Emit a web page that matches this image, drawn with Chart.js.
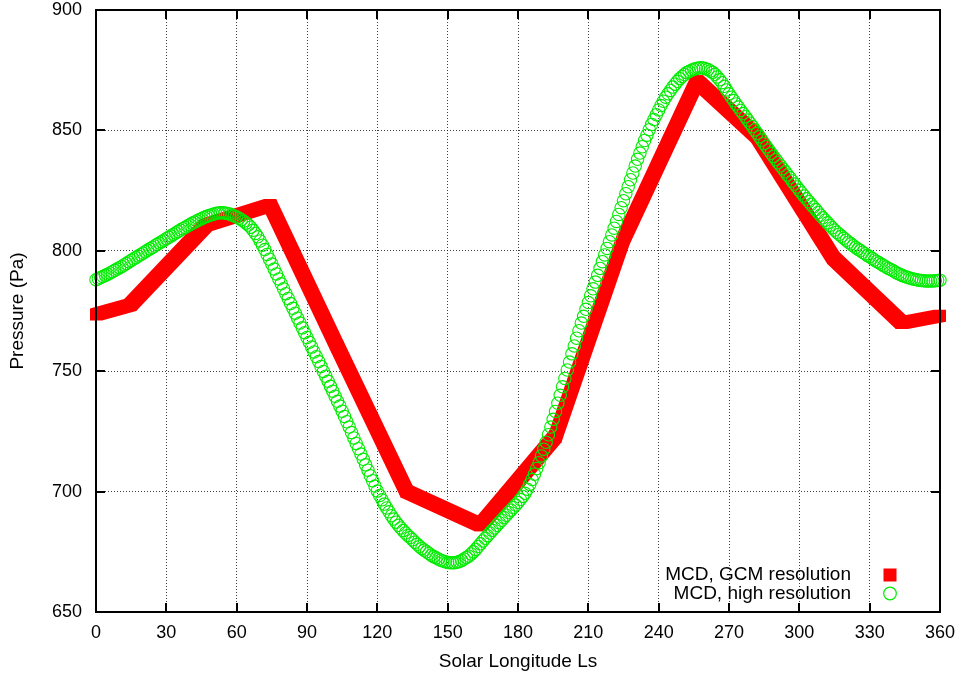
<!DOCTYPE html>
<html>
<head>
<meta charset="utf-8">
<script src="https://cdn.jsdelivr.net/npm/chart.js@4.4.0/dist/chart.umd.min.js"></script>
<style>
  html, body { margin: 0; padding: 0; background: #fff; }
  #wrap { width: 965px; height: 675px; }
</style>
</head>
<body>
<div id="wrap"><canvas id="pressure-chart" width="965" height="675"></canvas></div>
<script>
// GCM resolution: monthly knots (Ls in degrees, surface pressure in Pa)
const gcmLs = [0, 14.6, 47, 74.3, 103, 132.5, 164, 196, 225, 256.4, 282, 314.5, 343.7, 360];
const gcmP  = [773.5, 777.5, 810.7, 819, 760, 700, 686, 723, 805, 870.4, 847.5, 797, 770, 773];

// high resolution: one value per degree of Ls, starting at Ls = 0
const highResStart = 0;
const highResP = [
  788.0, 788.4, 788.9, 789.3, 789.8, 790.3, 790.8, 791.3, 791.9, 792.4,
  793.0, 793.5, 794.1, 794.7, 795.4, 796.0, 796.6, 797.2, 797.8, 798.4,
  799.0, 799.6, 800.2, 800.8, 801.4, 802.0, 802.6, 803.2, 803.8, 804.4,
  805.0, 805.6, 806.2, 806.8, 807.4, 808.0, 808.6, 809.2, 809.7, 810.3,
  810.8, 811.4, 811.9, 812.4, 812.9, 813.3, 813.8, 814.2, 814.6, 814.9,
  815.2, 815.5, 815.7, 815.8, 815.8, 815.7, 815.5, 815.3, 814.9, 814.5,
  814.0, 813.5, 812.9, 812.3, 811.5, 810.7, 809.8, 808.5, 807.2, 805.8,
  804.1, 802.3, 800.5, 798.5, 796.5, 794.5, 792.4, 790.4, 788.3, 786.3,
  784.2, 782.2, 780.2, 778.1, 776.1, 774.1, 772.0, 770.0, 768.0, 766.0,
  764.0, 762.0, 760.0, 758.0, 756.0, 754.0, 752.0, 749.9, 747.9, 745.8,
  743.7, 741.7, 739.6, 737.5, 735.5, 733.4, 731.2, 729.0, 726.8, 724.5,
  722.3, 720.0, 717.8, 715.6, 713.4, 711.1, 708.9, 706.6, 704.5, 702.3,
  700.2, 698.4, 696.6, 694.8, 693.2, 691.6, 690.0, 688.6, 687.3, 686.0,
  684.9, 683.8, 682.8, 681.8, 680.9, 680.0, 679.0, 678.1, 677.2, 676.4,
  675.7, 675.0, 674.3, 673.6, 673.0, 672.5, 672.0, 671.5, 671.2, 670.9,
  670.6, 670.5, 670.5, 670.5, 670.7, 671.0, 671.4, 672.0, 672.6, 673.2,
  674.1, 675.0, 676.0, 677.2, 678.3, 679.5, 680.6, 681.7, 682.8, 683.9,
  684.9, 686.0, 687.1, 688.1, 689.2, 690.2, 691.3, 692.3, 693.4, 694.4,
  695.5, 696.7, 698.0, 699.3, 701.0, 703.0, 705.0, 707.2, 709.6, 712.0,
  714.8, 717.6, 720.5, 723.6, 726.8, 730.0, 733.3, 736.7, 740.0, 743.5,
  747.0, 750.5, 753.8, 757.2, 760.5, 763.7, 766.8, 770.0, 772.8, 775.7,
  778.5, 781.3, 784.2, 787.0, 789.8, 792.7, 795.5, 798.3, 801.0, 803.8,
  806.6, 809.4, 812.2, 815.1, 817.9, 820.8, 823.7, 826.6, 829.5, 832.3,
  835.2, 838.0, 840.6, 843.2, 845.8, 848.0, 850.3, 852.5, 854.5, 856.5,
  858.5, 860.3, 862.1, 863.8, 865.2, 866.6, 868.0, 869.2, 870.4, 871.5,
  872.4, 873.2, 874.0, 874.5, 875.0, 875.4, 875.7, 875.9, 876.0, 875.9,
  875.6, 875.3, 874.7, 874.1, 873.3, 872.2, 871.0, 869.8, 868.3, 866.8,
  865.2, 863.8, 862.4, 861.0, 859.7, 858.3, 857.0, 855.7, 854.3, 853.0,
  851.6, 850.2, 848.8, 847.4, 846.0, 844.6, 843.2, 841.9, 840.5, 839.2,
  837.9, 836.6, 835.3, 834.1, 832.8, 831.5, 830.3, 829.0, 827.7, 826.5,
  825.2, 824.0, 822.8, 821.6, 820.5, 819.3, 818.2, 817.1, 815.9, 814.8,
  813.7, 812.7, 811.6, 810.6, 809.6, 808.6, 807.7, 806.9, 806.0, 805.2,
  804.4, 803.6, 802.9, 802.1, 801.4, 800.7, 800.1, 799.4, 798.8, 798.1,
  797.5, 796.9, 796.2, 795.6, 795.0, 794.4, 793.8, 793.3, 792.7, 792.2,
  791.7, 791.1, 790.6, 790.2, 789.7, 789.3, 789.0, 788.7, 788.4, 788.2,
  788.0, 787.8, 787.7, 787.6, 787.5, 787.5, 787.5, 787.5, 787.6, 787.7,
  787.8
];

const seriesLabels = ['MCD, GCM resolution', 'MCD, high resolution'];
const xTitle = 'Solar Longitude Ls';
const yTitle = 'Pressure (Pa)';

const RED = '#ff0000';
const GREEN = 'rgb(0, 235, 0)';
const FONT = '"Liberation Sans", Arial, sans-serif';
const SQ = 6; // half size of the gcm squares

function hull(points) {
  const p = points.slice().sort((a, b) => a[0] - b[0] || a[1] - b[1]);
  const cross = (o, a, b) => (a[0] - o[0]) * (b[1] - o[1]) - (a[1] - o[1]) * (b[0] - o[0]);
  const lower = [], upper = [];
  for (const q of p) {
    while (lower.length >= 2 && cross(lower[lower.length - 2], lower[lower.length - 1], q) <= 0) lower.pop();
    lower.push(q);
  }
  for (let i = p.length - 1; i >= 0; i--) {
    const q = p[i];
    while (upper.length >= 2 && cross(upper[upper.length - 2], upper[upper.length - 1], q) <= 0) upper.pop();
    upper.push(q);
  }
  upper.pop(); lower.pop();
  return lower.concat(upper);
}

// squares swept along the gcm series (like gnuplot's dense square points)
const squareBand = {
  id: 'squareBand',
  beforeDatasetsDraw(chart) {
    const pts = chart.getDatasetMeta(0).data;
    const ctx = chart.ctx;
    ctx.save();
    ctx.fillStyle = RED;
    for (let i = 0; i < pts.length - 1; i++) {
      const corners = [];
      [pts[i], pts[i + 1]].forEach(p => {
        corners.push([p.x - SQ, p.y - SQ], [p.x + SQ, p.y - SQ], [p.x + SQ, p.y + SQ], [p.x - SQ, p.y + SQ]);
      });
      const h = hull(corners);
      ctx.beginPath();
      h.forEach((c, j) => j ? ctx.lineTo(c[0], c[1]) : ctx.moveTo(c[0], c[1]));
      ctx.closePath();
      ctx.fill();
    }
    ctx.restore();
  }
};

// gnuplot style frame with inward ticks on all sides, plus the legend
const frameAndKey = {
  id: 'frameAndKey',
  afterDraw(chart) {
    const ctx = chart.ctx;
    const a = chart.chartArea;
    const xs = chart.scales.x, ys = chart.scales.y;
    const tl = 9;
    ctx.save();
    ctx.strokeStyle = '#000';
    ctx.lineWidth = 2;
    ctx.beginPath();
    xs.ticks.forEach(t => {
      const px = Math.round(xs.getPixelForValue(t.value));
      ctx.moveTo(px, a.bottom); ctx.lineTo(px, a.bottom - tl);
      ctx.moveTo(px, a.top); ctx.lineTo(px, a.top + tl);
    });
    ys.ticks.forEach(t => {
      const py = Math.round(ys.getPixelForValue(t.value));
      ctx.moveTo(a.left, py); ctx.lineTo(a.left + tl, py);
      ctx.moveTo(a.right, py); ctx.lineTo(a.right - tl, py);
    });
    ctx.stroke();
    ctx.strokeRect(a.left, a.top, a.right - a.left, a.bottom - a.top);

    // key
    ctx.font = '19px ' + FONT;
    ctx.fillStyle = '#000';
    ctx.textAlign = 'right';
    ctx.textBaseline = 'middle';
    const tx = a.right - 89, mx = a.right - 50;
    const rows = [a.bottom - 37, a.bottom - 18.5];
    ctx.fillText(seriesLabels[0], tx, rows[0]);
    ctx.fillText(seriesLabels[1], tx, rows[1]);
    ctx.fillStyle = RED;
    ctx.fillRect(mx - 6.5, rows[0] - 6.5, 13, 13);
    ctx.strokeStyle = GREEN;
    ctx.lineWidth = 1.2;
    ctx.beginPath();
    ctx.arc(mx, rows[1], 6.3, 0, Math.PI * 2);
    ctx.stroke();
    ctx.restore();
  }
};

const ctx = document.getElementById('pressure-chart').getContext('2d');
new Chart(ctx, {
  type: 'scatter',
  data: {
    datasets: [
      {
        label: seriesLabels[0],
        data: gcmLs.map((ls, i) => ({ x: ls, y: gcmP[i] })),
        pointRadius: 0,
        pointHoverRadius: 0,
        showLine: false,
        backgroundColor: RED,
        borderColor: RED
      },
      {
        label: seriesLabels[1],
        data: highResP.map((p, i) => ({ x: highResStart + i, y: p })),
        pointStyle: 'circle',
        pointRadius: 6.2,
        pointBorderWidth: 1.1,
        pointBorderColor: GREEN,
        pointBackgroundColor: 'rgba(0,0,0,0)',
        showLine: false,
        clip: false
      }
    ]
  },
  options: {
    responsive: false,
    animation: false,
    devicePixelRatio: 1,
    layout: { autoPadding: false, padding: { top: 10, right: 25, left: 0, bottom: 0 } },
    plugins: {
      legend: { display: false },
      tooltip: { enabled: false }
    },
    scales: {
      x: {
        type: 'linear',
        min: 0, max: 360,
        afterFit: s => { s.height = 63; s.paddingLeft = 0; s.paddingRight = 0; },
        ticks: { stepSize: 30, padding: 10, color: '#000', font: { family: FONT, size: 18 }, maxRotation: 0 },
        grid: { color: 'rgba(0,0,0,0.75)', lineWidth: 1, drawTicks: false },
        border: { display: false, dash: [1, 2] },
        title: { display: true, text: xTitle, color: '#000', font: { family: FONT, size: 19 }, padding: { top: 0, bottom: 2 } }
      },
      y: {
        type: 'linear',
        min: 650, max: 900,
        afterFit: s => { s.width = 96; s.paddingTop = 0; s.paddingBottom = 0; },
        ticks: { stepSize: 50, padding: 14, color: '#000', font: { family: FONT, size: 18 } },
        grid: { color: 'rgba(0,0,0,0.75)', lineWidth: 1, drawTicks: false },
        border: { display: false, dash: [1, 2] },
        title: { display: true, text: yTitle, color: '#000', font: { family: FONT, size: 19 }, padding: { top: 6, bottom: 0 } }
      }
    }
  },
  plugins: [squareBand, frameAndKey]
});
</script>
</body>
</html>
